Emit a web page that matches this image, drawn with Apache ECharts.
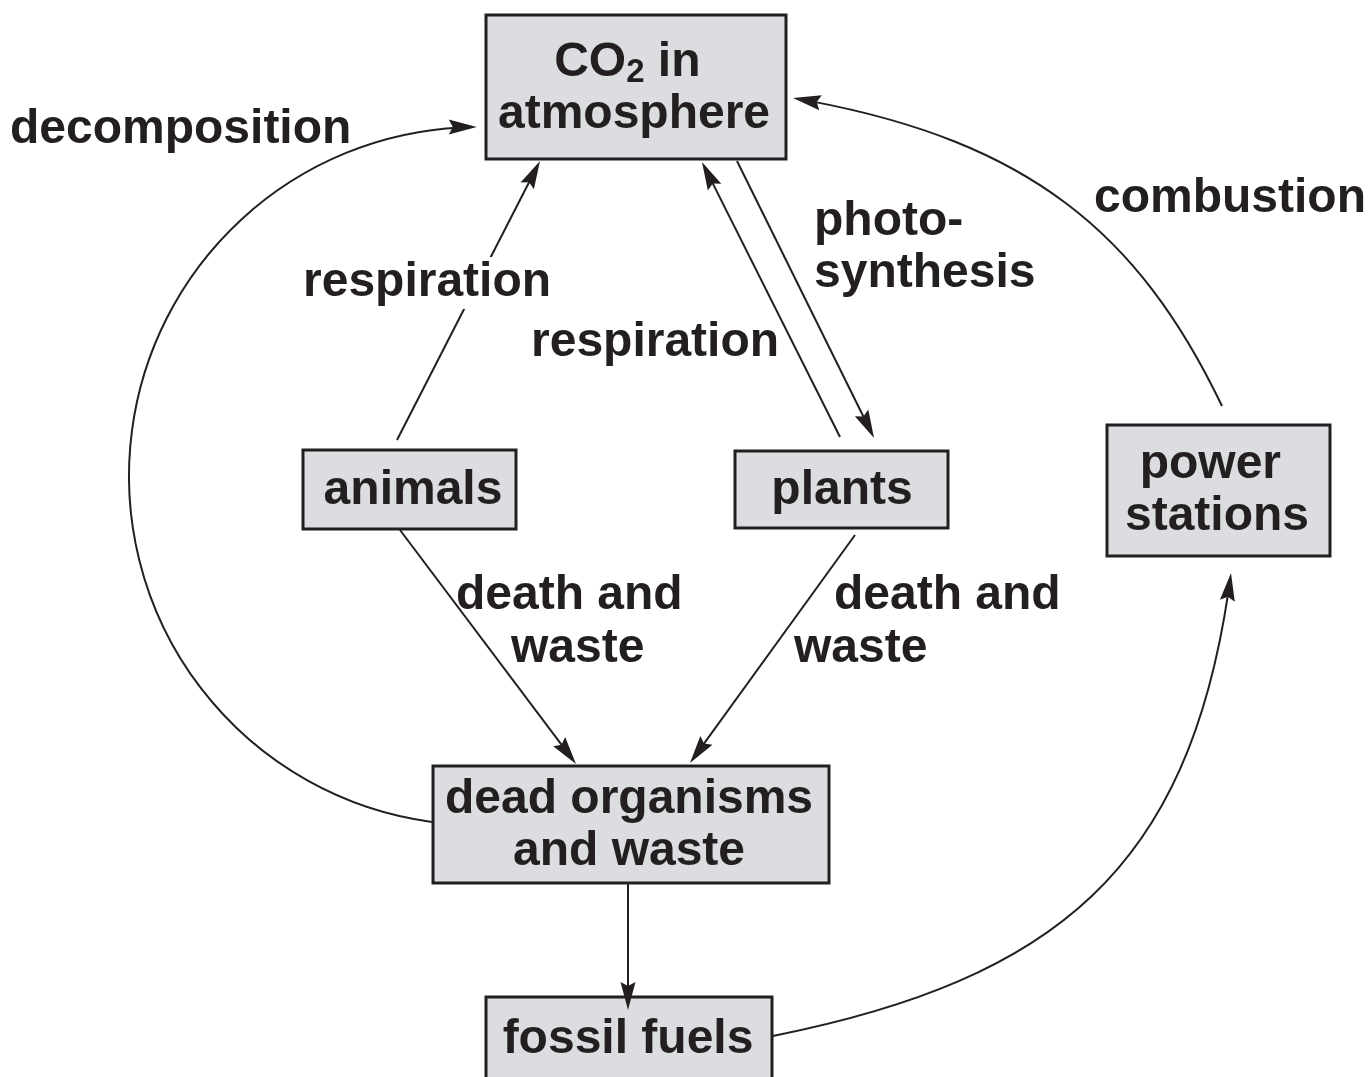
<!DOCTYPE html>
<html><head><meta charset="utf-8">
<script src="https://cdn.jsdelivr.net/npm/echarts@6.0.0/dist/echarts.min.js"></script>
<style>html,body{margin:0;padding:0;background:#fff}#c{width:1369px;height:1077px}</style>
</head><body><div id="c"></div>
<script>
// ---------------- data ----------------
// boxes (reservoirs of carbon)
const boxLabels = ['{m|CO}{s|2}{m| in }\n{m|atmosphere}', 'animals', 'plants', 'power \nstations', 'dead organisms\nand waste', 'fossil fuels'];
const boxLeft   = [486, 303, 735, 1107, 433, 486];
const boxTop    = [15, 450, 451, 425, 766, 997];
const boxRight  = [786, 516, 948, 1330, 829, 772];
const boxBottom = [159, 529, 528, 556, 883, 1100];
const boxTextX  = [634, 413, 842, 1217, 629, 628];
const boxTextY  = [89, 491, 491, 491, 826, 1040];

// process labels
const flowLabels = ['decomposition', 'respiration', 'respiration', 'photo-\nsynthesis', 'combustion', 'death and', 'waste', 'death and', 'waste'];
const flowLabelX = [10, 303, 531, 814, 1094, 456, 511, 834, 794];
const flowLabelY = [130, 283, 343, 248, 199, 596, 649, 596, 649];

// straight arrows: [fromX, fromY, tipX, tipY]
const straightFlows = [
  [397, 440, 540, 161],   // animals -> CO2 (respiration)
  [840, 437, 702, 162],   // plants -> CO2 (respiration)
  [737, 161, 874, 438],   // CO2 -> plants (photosynthesis)
  [400, 530, 576, 764],   // animals -> dead organisms
  [855, 535, 690, 763],   // plants -> dead organisms
  [628, 883, 628, 1010]   // dead organisms -> fossil fuels
];
// curved arrows (cubic): [x0, y0, c1x, c1y, c2x, c2y, tipX, tipY]
const curvedFlows = [
  [773, 1036, 1063, 978, 1193, 863, 1231, 573],  // fossil fuels -> power stations
  [1222, 406, 1136, 226, 1020, 137, 793, 98]     // power stations -> CO2 (combustion)
];
// arc arrows: [centreX, centreY, radius, startDeg, tipDeg]
const arcFlows = [
  [478, 476, 349, 97.6, 269.8]   // dead organisms -> CO2 (decomposition)
];

// ---------------- style ----------------
const INK = '#231f20';
const FILL = '#dcdde0';
const FONT = '"Liberation Sans", Arial, Helvetica, sans-serif';
const FS = 48, LH = 52;
const HEAD_L = 28, HEAD_HW = 7.5, HEAD_NOTCH = 4;
const maskedLabels = new Set([1]);

function arrowHead(tx, ty, dx, dy) {
  const nx = -dy, ny = dx;
  return {
    type: 'polygon',
    shape: { points: [
      [tx, ty],
      [tx - HEAD_L * dx + HEAD_HW * nx, ty - HEAD_L * dy + HEAD_HW * ny],
      [tx - (HEAD_L - HEAD_NOTCH) * dx, ty - (HEAD_L - HEAD_NOTCH) * dy],
      [tx - HEAD_L * dx - HEAD_HW * nx, ty - HEAD_L * dy - HEAD_HW * ny]
    ]},
    style: { fill: INK }
  };
}
const richStyles = {
  m: { fontSize: FS, fontWeight: 'bold', fontFamily: FONT, lineHeight: LH, fill: INK },
  s: { fontSize: 33, fontWeight: 'bold', fontFamily: FONT, lineHeight: 29, verticalAlign: 'bottom', fill: INK }
};

const chart = echarts.init(document.getElementById('c'), null, { renderer: 'canvas' });
chart.setOption({
  animation: false,
  backgroundColor: '#ffffff',
  grid: { left: 0, right: 0, top: 0, bottom: 0 },
  xAxis: { type: 'value', min: 0, max: 1369, show: false },
  yAxis: { type: 'value', min: 0, max: 1077, inverse: true, show: false },
  series: [
    {
      type: 'custom', name: 'boxes', z: 1, clip: false,
      data: boxLabels.map((l, i) => [boxLeft[i], boxTop[i], boxRight[i], boxBottom[i], boxTextX[i], boxTextY[i]]),
      renderItem(params, api) {
        const i = params.dataIndex;
        const p1 = api.coord([api.value(0), api.value(1)]);
        const p2 = api.coord([api.value(2), api.value(3)]);
        const t = api.coord([api.value(4), api.value(5)]);
        return { type: 'group', children: [
          { type: 'rect', shape: { x: p1[0], y: p1[1], width: p2[0] - p1[0], height: p2[1] - p1[1] },
            style: { fill: FILL, stroke: INK, lineWidth: 3 } },
          { type: 'text', style: {
              text: boxLabels[i], x: t[0], y: t[1], align: 'center', verticalAlign: 'middle',
              fontSize: FS, fontWeight: 'bold', fontFamily: FONT, lineHeight: LH, fill: INK,
              rich: richStyles } }
        ]};
      }
    },
    {
      type: 'custom', name: 'straight flows', z: 2, clip: false,
      data: straightFlows,
      renderItem(params, api) {
        const a = api.coord([api.value(0), api.value(1)]);
        const b = api.coord([api.value(2), api.value(3)]);
        const len = Math.hypot(b[0] - a[0], b[1] - a[1]);
        const dx = (b[0] - a[0]) / len, dy = (b[1] - a[1]) / len;
        const back = HEAD_L - HEAD_NOTCH - 2;
        return { type: 'group', children: [
          { type: 'line', shape: { x1: a[0], y1: a[1], x2: b[0] - dx * back, y2: b[1] - dy * back },
            style: { stroke: INK, lineWidth: 2 } },
          arrowHead(b[0], b[1], dx, dy)
        ]};
      }
    },
    {
      type: 'custom', name: 'curved flows', z: 2, clip: false,
      data: curvedFlows,
      renderItem(params, api) {
        const p0 = api.coord([api.value(0), api.value(1)]);
        const c1 = api.coord([api.value(2), api.value(3)]);
        const c2 = api.coord([api.value(4), api.value(5)]);
        const p3 = api.coord([api.value(6), api.value(7)]);
        const len = Math.hypot(p3[0] - c2[0], p3[1] - c2[1]);
        const dx = (p3[0] - c2[0]) / len, dy = (p3[1] - c2[1]) / len;
        const approx = Math.hypot(c1[0]-p0[0], c1[1]-p0[1]) + Math.hypot(c2[0]-c1[0], c2[1]-c1[1]) + len;
        return { type: 'group', children: [
          { type: 'bezierCurve', shape: { x1: p0[0], y1: p0[1], cpx1: c1[0], cpy1: c1[1], cpx2: c2[0], cpy2: c2[1], x2: p3[0], y2: p3[1], percent: 1 - 16 / approx },
            style: { stroke: INK, lineWidth: 2, fill: null } },
          arrowHead(p3[0], p3[1], dx, dy)
        ]};
      }
    },
    {
      type: 'custom', name: 'arc flows', z: 2, clip: false,
      data: arcFlows,
      renderItem(params, api) {
        const c = api.coord([api.value(0), api.value(1)]);
        const r = api.size([api.value(2), api.value(2)])[0];
        const a0 = api.value(3) * Math.PI / 180;
        const a1 = api.value(4) * Math.PI / 180;
        const tx = c[0] + r * Math.cos(a1), ty = c[1] + r * Math.sin(a1);
        const dx = -Math.sin(a1), dy = Math.cos(a1);
        return { type: 'group', children: [
          { type: 'arc', shape: { cx: c[0], cy: c[1], r: r, startAngle: a0, endAngle: a1 - 16 / r, clockwise: true },
            style: { stroke: INK, lineWidth: 2, fill: null } },
          arrowHead(tx, ty, dx, dy)
        ]};
      }
    },
    {
      type: 'custom', name: 'process labels', z: 3, clip: false,
      data: flowLabels.map((l, i) => [flowLabelX[i], flowLabelY[i]]),
      renderItem(params, api) {
        const i = params.dataIndex;
        const p = api.coord([api.value(0), api.value(1)]);
        const st = {
          text: flowLabels[i], x: p[0], y: p[1], align: 'left', verticalAlign: 'middle',
          fontSize: FS, fontWeight: 'bold', fontFamily: FONT, lineHeight: LH, fill: INK
        };
        if (maskedLabels.has(i)) { st.backgroundColor = '#ffffff'; st.padding = [0, 4]; st.x = p[0] - 4; }
        return { type: 'text', style: st };
      }
    }
  ]
});
</script>
</body></html>
